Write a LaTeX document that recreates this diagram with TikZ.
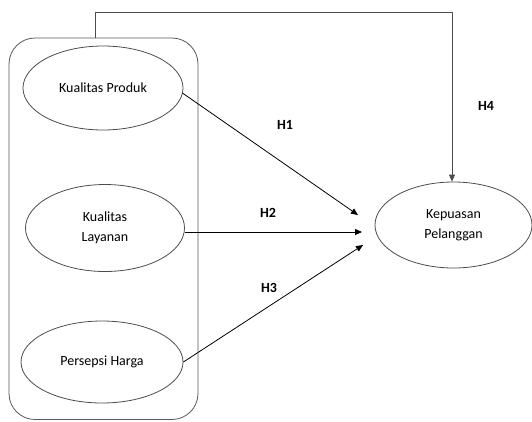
\documentclass[tikz,border=0pt]{standalone}
\usepackage{fontspec}
\setmainfont{Carlito}
\usetikzlibrary{shapes.geometric,arrows.meta}
\begin{document}
\begin{tikzpicture}[x=1pt,y=-1pt,
  var/.style={ellipse,draw=black!70,line width=0.8pt,minimum width=#1,align=center,inner sep=0pt,
    font=\fontsize{14}{20}\selectfont},
  hlabel/.style={font=\fontsize{14}{17}\selectfont\bfseries},
  conn/.style={line width=0.8pt,-{Triangle[length=7pt,width=6pt]}}]
\useasboundingbox (0,0) rectangle (532,421);
\draw[draw=black!65,line width=0.8pt,rounded corners=26pt] (9,38) rectangle (198,419.5) ;
\coordinate (rtop) at (95,38);
\node[var=160pt,minimum height=84pt] (kp) at (103,88) {Kualitas Produk};
\node[var=159pt,minimum height=87pt] (kl) at (105,228) {Kualitas\\Layanan};
\node[var=162pt,minimum height=82pt] (ph) at (102,362) {Persepsi Harga};
\node[var=157pt,minimum height=86pt] (kep) at (453.5,225) {Kepuasan\\Pelanggan};
\coordinate (t1) at (358,215);
\coordinate (t2) at (362,232);
\coordinate (t3) at (363,245);
\draw[conn] (kp.east |- 0,93) ++(-1,0) -- (t1);
\draw[conn] (kl.east |- t2) -- (t2);
\draw[conn] (ph.east) -- (t3);
\draw[conn,draw=black!70] (rtop) -- (95,12) -- (452,12) -- (kep.north -| 452,0);
\node[hlabel] (h1) at (285,125) {H1};
\node[hlabel] (h2) at (268,213) {H2};
\node[hlabel] (h3) at (269,288) {H3};
\node[hlabel] (h4) at (486,106) {H4};
\end{tikzpicture}
\end{document}
